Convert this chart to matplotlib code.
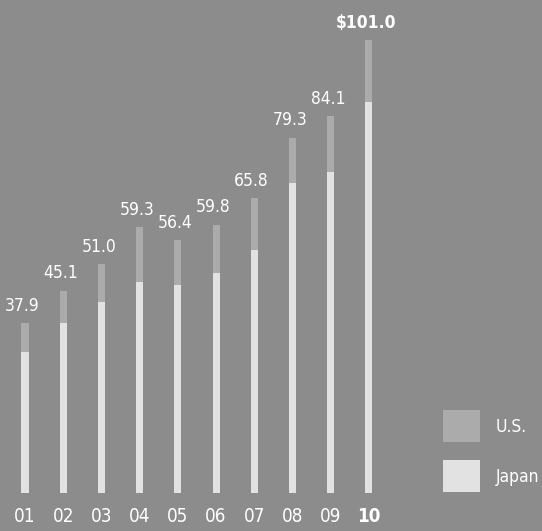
import matplotlib
matplotlib.use('Agg')
import matplotlib.pyplot as plt
import numpy as np

years = ['01', '02', '03', '04', '05', '06', '07', '08', '09', '10']
japan = [31.5, 37.9, 42.6, 47.1, 46.4, 49.1, 54.2, 69.2, 71.7, 87.3]
us = [6.4, 7.2, 8.4, 12.2, 10.0, 10.7, 11.6, 10.1, 12.4, 13.7]
totals = [37.9, 45.1, 51.0, 59.3, 56.4, 59.8, 65.8, 79.3, 84.1, 101.0]
total_labels = ['37.9', '45.1', '51.0', '59.3', '56.4', '59.8', '65.8', '79.3', '84.1', '$101.0']

bg = '#8c8c8c'
c_japan = '#e2e2e2'
c_us = '#ababab'
fam = ['Liberation Sans Narrow', 'DejaVu Sans Condensed', 'DejaVu Sans']

fig = plt.figure(figsize=(5.42, 5.31), dpi=100, facecolor=bg)
ax = fig.add_axes([0, 38/531, 1, 493/531])
ax.set_facecolor(bg)

x = np.arange(len(years))
w = 0.185
ax.bar(x, japan, width=w, color=c_japan, label='Japan')
ax.bar(x, us, width=w, bottom=japan, color=c_us, label='U.S.')

for i, (t, lab) in enumerate(zip(totals, total_labels)):
    last = i == len(totals) - 1
    ax.text(i - 0.07, t + 1.9, lab, ha='center', va='bottom', color='white',
            fontsize=12.5, family=fam, fontstretch='condensed',
            fontweight='bold' if last else 'normal')

ax.set_xlim(-0.654, 13.53)
ax.set_ylim(0, 110)
ax.set_xticks(x)
ax.set_xticklabels(years, fontsize=13.5, color='white', family=fam, fontstretch='condensed')
ax.get_xticklabels()[-1].set_fontweight('bold')
ax.tick_params(axis='x', length=0, pad=10)
ax.set_yticks([])
for s in ax.spines.values():
    s.set_visible(False)

# legend
handles, labels = ax.get_legend_handles_labels()
leg = ax.legend(handles[::-1], labels[::-1], loc='lower left', bbox_to_anchor=(0.788, -0.03),
                frameon=False, handlelength=2.13, handleheight=2.45,
                labelspacing=1.03, handletextpad=0.9, labelcolor='white',
                prop={'family': fam, 'size': 12.5, 'stretch': 'condensed'})

fig.savefig('out.png', dpi=100, facecolor=bg)
